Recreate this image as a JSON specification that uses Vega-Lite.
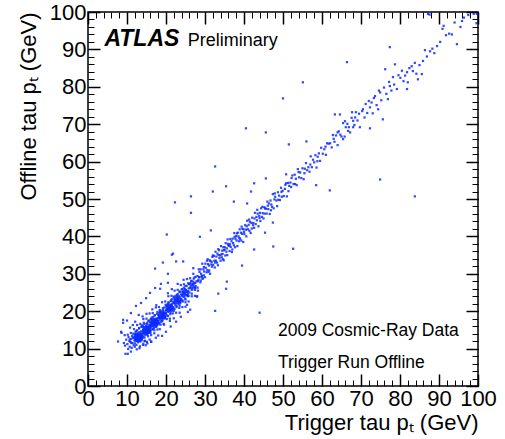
{
"$schema": "https://vega.github.io/schema/vega-lite/v6.json",
"width": 390, "height": 374,
"autosize": {"type": "none"},
"padding": {"left": 88, "top": 12, "right": 27, "bottom": 53},
"background": "white",
"config": {
  "view": {"stroke": "#000", "strokeWidth": 1.5},
  "font": "Liberation Sans",
  "axis": {"grid": false, "domain": false, "labelFont": "Liberation Sans", "titleFont": "Liberation Sans", "labelColor": "#000", "titleColor": "#000", "tickColor": "#000", "labelFlush": false, "labelOverlap": false}
},
"datasets": {
"pts": [
{"trig":12.1,"off":12.2},{"trig":12.5,"off":12.1},{"trig":12.9,"off":12.3},{"trig":13.3,"off":12.1},{"trig":13.7,"off":12.2},{"trig":12.2,"off":12.6},{"trig":12.6,"off":12.7},{"trig":13.0,"off":12.5},{"trig":13.4,"off":12.6},{"trig":13.8,"off":12.7},{"trig":12.1,"off":13.0},{"trig":12.4,"off":13.1},{"trig":12.8,"off":12.9},{"trig":13.2,"off":13.0},{"trig":13.6,"off":13.1},{"trig":13.9,"off":12.9},{"trig":12.3,"off":13.5},{"trig":12.7,"off":13.4},{"trig":13.1,"off":13.5},{"trig":13.5,"off":13.4},{"trig":13.9,"off":13.5},{"trig":12.1,"off":13.9},{"trig":12.5,"off":13.8},{"trig":12.9,"off":13.9},{"trig":13.3,"off":13.8},{"trig":13.7,"off":13.9},
{"trig":14.1,"off":14.2},{"trig":14.5,"off":14.1},{"trig":14.9,"off":14.3},{"trig":15.3,"off":14.1},{"trig":15.7,"off":14.2},{"trig":14.2,"off":14.6},{"trig":14.6,"off":14.7},{"trig":15.0,"off":14.5},{"trig":15.4,"off":14.6},{"trig":15.8,"off":14.7},{"trig":14.1,"off":15.0},{"trig":14.4,"off":15.1},{"trig":14.8,"off":14.9},{"trig":15.2,"off":15.0},{"trig":15.6,"off":15.1},{"trig":15.9,"off":14.9},{"trig":14.3,"off":15.5},{"trig":14.7,"off":15.4},{"trig":15.1,"off":15.5},{"trig":15.5,"off":15.4},{"trig":15.9,"off":15.5},{"trig":14.1,"off":15.9},{"trig":14.5,"off":15.8},{"trig":14.9,"off":15.9},{"trig":15.3,"off":15.8},{"trig":15.7,"off":15.9},
{"trig":16.1,"off":16.2},{"trig":16.5,"off":16.1},{"trig":16.9,"off":16.3},{"trig":17.3,"off":16.1},{"trig":17.7,"off":16.2},{"trig":16.2,"off":16.6},{"trig":16.6,"off":16.7},{"trig":17.0,"off":16.5},{"trig":17.4,"off":16.6},{"trig":17.8,"off":16.7},{"trig":16.1,"off":17.0},{"trig":16.4,"off":17.1},{"trig":16.8,"off":16.9},{"trig":17.2,"off":17.0},{"trig":17.6,"off":17.1},{"trig":17.9,"off":16.9},{"trig":16.3,"off":17.5},{"trig":16.7,"off":17.4},{"trig":17.1,"off":17.5},{"trig":17.5,"off":17.4},{"trig":17.9,"off":17.5},{"trig":16.1,"off":17.9},{"trig":16.5,"off":17.8},{"trig":16.9,"off":17.9},{"trig":17.3,"off":17.8},{"trig":17.7,"off":17.9},
{"trig":18.1,"off":18.2},{"trig":18.5,"off":18.1},{"trig":18.9,"off":18.3},{"trig":19.3,"off":18.1},{"trig":19.7,"off":18.2},{"trig":18.2,"off":18.6},{"trig":18.6,"off":18.7},{"trig":19.0,"off":18.5},{"trig":19.4,"off":18.6},{"trig":19.8,"off":18.7},{"trig":18.1,"off":19.0},{"trig":18.8,"off":18.9},{"trig":19.2,"off":19.0},{"trig":19.6,"off":19.1},{"trig":18.3,"off":19.5},{"trig":18.7,"off":19.4},{"trig":19.1,"off":19.5},{"trig":19.5,"off":19.4},{"trig":19.9,"off":19.5},{"trig":18.5,"off":19.8},{"trig":18.9,"off":19.9},{"trig":19.3,"off":19.8},
{"trig":20.1,"off":20.2},{"trig":20.5,"off":20.1},{"trig":20.9,"off":20.3},{"trig":21.3,"off":20.1},{"trig":21.7,"off":20.2},{"trig":20.2,"off":20.6},{"trig":20.6,"off":20.7},{"trig":21.0,"off":20.5},{"trig":21.4,"off":20.6},{"trig":21.8,"off":20.7},{"trig":20.4,"off":21.1},{"trig":20.8,"off":20.9},{"trig":21.2,"off":21.0},{"trig":21.6,"off":21.1},{"trig":20.3,"off":21.5},{"trig":20.7,"off":21.4},{"trig":21.1,"off":21.5},{"trig":21.5,"off":21.4},{"trig":20.5,"off":21.8},{"trig":21.3,"off":21.8},
{"trig":22.1,"off":22.2},{"trig":22.5,"off":22.1},{"trig":23.0,"off":22.3},{"trig":23.5,"off":22.1},{"trig":22.3,"off":22.6},{"trig":22.8,"off":22.7},{"trig":23.2,"off":22.5},{"trig":23.7,"off":22.7},{"trig":22.2,"off":23.1},{"trig":22.7,"off":23.0},{"trig":23.2,"off":23.1},{"trig":23.8,"off":23.0},{"trig":22.4,"off":23.5},{"trig":22.9,"off":23.6},{"trig":23.4,"off":23.4},{"trig":23.0,"off":23.9},
{"trig":24.2,"off":24.2},{"trig":24.7,"off":24.1},{"trig":25.3,"off":24.3},{"trig":24.4,"off":24.6},{"trig":24.9,"off":24.7},{"trig":25.6,"off":24.6},{"trig":24.2,"off":25.1},{"trig":24.8,"off":25.0},{"trig":25.4,"off":25.1},{"trig":24.5,"off":25.5},{"trig":25.1,"off":25.6},{"trig":25.7,"off":25.4},{"trig":24.9,"off":25.9},
{"trig":26.2,"off":26.3},{"trig":26.8,"off":26.1},{"trig":27.4,"off":26.4},{"trig":26.4,"off":26.8},{"trig":27.0,"off":26.9},{"trig":27.6,"off":26.7},{"trig":26.3,"off":27.4},{"trig":26.9,"off":27.3},{"trig":27.5,"off":27.5},{"trig":27.0,"off":27.9},
{"trig":28.3,"off":28.4},{"trig":28.9,"off":28.2},{"trig":29.4,"off":28.7},{"trig":28.6,"off":29.1},{"trig":29.2,"off":29.3},{"trig":29.7,"off":29.6},
{"trig":9.2,"off":11.5},{"trig":9.5,"off":10.8},{"trig":9.8,"off":12.4},{"trig":10.1,"off":11.2},{"trig":10.3,"off":9.9},{"trig":10.4,"off":13.1},{"trig":10.6,"off":12.0},{"trig":10.7,"off":10.5},{"trig":10.9,"off":11.8},{"trig":11.0,"off":14.2},{"trig":11.1,"off":12.6},{"trig":11.2,"off":10.2},{"trig":11.3,"off":13.4},{"trig":11.4,"off":11.5},{"trig":11.5,"off":12.9},{"trig":11.6,"off":14.0},{"trig":11.7,"off":10.9},{"trig":11.8,"off":13.0},{"trig":11.9,"off":12.2},{"trig":12.0,"off":13.6},{"trig":12.0,"off":11.4},{"trig":12.1,"off":12.8},{"trig":12.2,"off":14.5},{"trig":12.2,"off":13.2},{"trig":12.3,"off":12.1},{"trig":12.4,"off":13.8},{"trig":12.4,"off":11.0},{"trig":12.5,"off":12.6},{"trig":12.6,"off":13.3},{"trig":12.6,"off":14.9},{"trig":12.7,"off":12.0},{"trig":12.8,"off":13.5},{"trig":12.8,"off":11.7},{"trig":12.9,"off":14.1},{"trig":13.0,"off":12.9},{"trig":13.0,"off":13.7},{"trig":13.1,"off":15.4},{"trig":13.2,"off":12.3},{"trig":13.2,"off":14.4},{"trig":13.3,"off":13.1},{"trig":13.4,"off":11.9},{"trig":13.4,"off":13.9},{"trig":13.5,"off":12.7},{"trig":13.6,"off":14.6},{"trig":13.6,"off":13.2},{"trig":13.7,"off":15.8},{"trig":13.8,"off":12.5},{"trig":13.9,"off":14.0},{"trig":14.0,"off":13.4},{"trig":14.0,"off":16.2},{"trig":9.0,"off":16.9},{"trig":10.0,"off":17.5},{"trig":8.6,"off":14.2},{"trig":9.4,"off":13.6},{"trig":10.8,"off":15.6},{"trig":11.5,"off":16.3},{"trig":12.1,"off":17.2},{"trig":10.2,"off":8.6},{"trig":11.0,"off":9.2},{"trig":12.5,"off":9.8},{"trig":13.3,"off":10.6},{"trig":14.2,"off":11.3},{"trig":14.5,"off":12.0},{"trig":15.1,"off":11.8},{"trig":14.8,"off":10.9},
{"trig":14.1,"off":14.8},{"trig":14.2,"off":13.0},{"trig":14.3,"off":15.5},{"trig":14.4,"off":14.1},{"trig":14.5,"off":16.6},{"trig":14.6,"off":13.7},{"trig":14.7,"off":15.0},{"trig":14.8,"off":14.4},{"trig":14.9,"off":16.0},{"trig":15.0,"off":15.2},{"trig":15.0,"off":13.9},{"trig":15.1,"off":14.7},{"trig":15.2,"off":16.9},{"trig":15.3,"off":15.6},{"trig":15.4,"off":14.2},{"trig":15.5,"off":15.9},{"trig":15.5,"off":17.4},{"trig":15.6,"off":14.9},{"trig":15.7,"off":16.3},{"trig":15.8,"off":15.3},{"trig":15.9,"off":17.0},{"trig":16.0,"off":16.1},{"trig":16.0,"off":14.6},{"trig":16.1,"off":15.7},{"trig":16.2,"off":17.8},{"trig":16.3,"off":16.5},{"trig":16.4,"off":15.1},{"trig":16.5,"off":17.2},{"trig":16.6,"off":16.0},{"trig":16.7,"off":18.4},{"trig":16.8,"off":16.8},{"trig":16.9,"off":15.5},{"trig":17.0,"off":17.6},{"trig":17.0,"off":16.3},{"trig":17.1,"off":18.9},{"trig":17.2,"off":17.1},{"trig":17.3,"off":15.9},{"trig":17.4,"off":18.0},{"trig":17.5,"off":16.7},{"trig":17.6,"off":17.5},{"trig":17.7,"off":19.3},{"trig":17.8,"off":16.4},{"trig":17.9,"off":18.2},{"trig":18.0,"off":17.3},{"trig":18.1,"off":19.0},{"trig":18.2,"off":16.9},{"trig":18.3,"off":18.6},{"trig":18.4,"off":17.7},{"trig":18.5,"off":20.1},{"trig":18.6,"off":18.3},{"trig":18.7,"off":17.2},{"trig":18.8,"off":19.4},{"trig":18.9,"off":18.0},{"trig":19.0,"off":19.1},{"trig":19.1,"off":17.6},{"trig":19.2,"off":20.3},{"trig":19.3,"off":18.8},{"trig":19.4,"off":19.7},{"trig":19.5,"off":18.2},{"trig":19.6,"off":21.0},{"trig":19.7,"off":19.3},{"trig":19.8,"off":18.5},{"trig":19.9,"off":20.2},{"trig":14.0,"off":18.6},{"trig":15.0,"off":19.3},{"trig":16.5,"off":20.5},{"trig":17.5,"off":21.6},{"trig":15.8,"off":12.4},{"trig":17.0,"off":14.1},{"trig":18.4,"off":15.2},{"trig":19.5,"off":16.4},{"trig":16.2,"off":11.8},{"trig":18.0,"off":13.5},{"trig":13.0,"off":19.0},
{"trig":20.0,"off":19.5},{"trig":20.1,"off":21.2},{"trig":20.2,"off":20.4},{"trig":20.3,"off":18.9},{"trig":20.4,"off":21.8},{"trig":20.5,"off":20.7},{"trig":20.6,"off":19.8},{"trig":20.7,"off":22.3},{"trig":20.8,"off":21.0},{"trig":20.9,"off":20.1},{"trig":21.0,"off":21.6},{"trig":21.1,"off":19.2},{"trig":21.2,"off":22.7},{"trig":21.3,"off":21.3},{"trig":21.4,"off":20.5},{"trig":21.5,"off":23.2},{"trig":21.6,"off":21.9},{"trig":21.7,"off":20.9},{"trig":21.8,"off":22.5},{"trig":21.9,"off":21.1},{"trig":22.0,"off":23.6},{"trig":22.1,"off":22.2},{"trig":22.2,"off":20.6},{"trig":22.3,"off":23.0},{"trig":22.4,"off":21.7},{"trig":22.5,"off":24.1},{"trig":22.6,"off":22.8},{"trig":22.7,"off":21.4},{"trig":22.8,"off":23.5},{"trig":22.9,"off":22.4},{"trig":23.0,"off":24.6},{"trig":23.1,"off":23.1},{"trig":23.2,"off":21.9},{"trig":23.3,"off":24.0},{"trig":23.4,"off":22.7},{"trig":23.5,"off":25.2},{"trig":23.6,"off":23.7},{"trig":23.7,"off":22.3},{"trig":23.8,"off":24.5},{"trig":23.9,"off":23.3},{"trig":24.0,"off":25.8},{"trig":24.1,"off":24.2},{"trig":24.2,"off":22.9},{"trig":24.4,"off":25.1},{"trig":24.5,"off":23.8},{"trig":24.6,"off":26.3},{"trig":24.8,"off":24.7},{"trig":24.9,"off":23.4},{"trig":25.0,"off":25.5},{"trig":25.2,"off":24.3},{"trig":25.3,"off":26.8},{"trig":25.5,"off":25.2},{"trig":25.6,"off":24.0},{"trig":25.8,"off":26.1},{"trig":25.9,"off":27.2},{"trig":20.5,"off":24.8},{"trig":21.5,"off":25.9},{"trig":23.0,"off":27.3},{"trig":24.5,"off":28.4},{"trig":22.0,"off":18.1},{"trig":23.5,"off":19.6},{"trig":25.0,"off":21.2},{"trig":21.0,"off":17.4},
{"trig":26.0,"off":25.0},{"trig":26.1,"off":27.4},{"trig":26.3,"off":26.2},{"trig":26.5,"off":28.0},{"trig":26.6,"off":25.7},{"trig":26.8,"off":27.1},{"trig":27.0,"off":26.4},{"trig":27.1,"off":28.7},{"trig":27.3,"off":27.5},{"trig":27.5,"off":26.1},{"trig":27.6,"off":29.2},{"trig":27.8,"off":28.0},{"trig":27.0,"off":31.5},{"trig":28.0,"off":24.0},
{"trig":11.8,"off":15.2},{"trig":12.6,"off":16.3},{"trig":13.4,"off":16.6},{"trig":14.2,"off":17.9},{"trig":15.0,"off":18.0},{"trig":15.8,"off":19.4},{"trig":16.6,"off":19.5},{"trig":17.4,"off":21.0},{"trig":18.2,"off":21.1},{"trig":19.0,"off":22.4},{"trig":19.8,"off":22.6},{"trig":20.6,"off":24.0},{"trig":21.4,"off":24.1},{"trig":22.2,"off":25.5},{"trig":23.0,"off":25.7},{"trig":23.8,"off":27.0},{"trig":24.6,"off":27.2},{"trig":25.4,"off":28.6},{"trig":26.2,"off":28.8},{"trig":27.0,"off":30.0},
{"trig":14.6,"off":12.1},{"trig":15.4,"off":13.3},{"trig":16.2,"off":13.6},{"trig":17.0,"off":14.9},{"trig":17.8,"off":15.1},{"trig":18.6,"off":16.4},{"trig":19.4,"off":16.6},{"trig":20.2,"off":17.9},{"trig":21.0,"off":18.0},{"trig":21.8,"off":19.4},{"trig":22.6,"off":19.6},{"trig":23.4,"off":20.9},{"trig":24.2,"off":21.1},{"trig":25.0,"off":22.4},{"trig":25.8,"off":22.6},{"trig":26.6,"off":24.0},{"trig":27.4,"off":24.1},{"trig":28.2,"off":25.5},
{"trig":12.4,"off":14.6},{"trig":13.1,"off":15.5},{"trig":13.8,"off":16.1},{"trig":14.3,"off":16.9},{"trig":15.1,"off":16.6},{"trig":15.6,"off":17.5},{"trig":16.3,"off":18.3},{"trig":17.1,"off":18.9},{"trig":17.8,"off":19.8},{"trig":18.4,"off":20.3},{"trig":19.2,"off":20.8},{"trig":19.9,"off":21.7},{"trig":20.6,"off":22.3},{"trig":21.3,"off":22.9},{"trig":22.0,"off":23.9},{"trig":22.8,"off":24.3},{"trig":23.5,"off":25.2},{"trig":24.2,"off":25.9},{"trig":25.0,"off":26.7},{"trig":25.7,"off":27.5},{"trig":26.5,"off":28.1},{"trig":27.3,"off":29.0},
{"trig":14.5,"off":13.0},{"trig":15.2,"off":13.7},{"trig":16.0,"off":14.2},{"trig":16.7,"off":15.3},{"trig":17.5,"off":15.8},{"trig":18.3,"off":16.6},{"trig":19.0,"off":17.3},{"trig":19.7,"off":18.1},{"trig":20.5,"off":18.7},{"trig":21.2,"off":19.6},{"trig":22.0,"off":20.1},{"trig":22.7,"off":21.1},{"trig":23.5,"off":21.5},{"trig":24.3,"off":22.6},{"trig":25.0,"off":23.1},{"trig":25.8,"off":24.1},{"trig":26.6,"off":24.7},{"trig":27.4,"off":25.7},{"trig":28.1,"off":26.3},
{"trig":8.5,"off":14.5},{"trig":9.0,"off":17.7},{"trig":10.2,"off":13.7},{"trig":10.7,"off":12.5},{"trig":11.1,"off":11.5},{"trig":12.0,"off":10.5},{"trig":13.2,"off":10.1},{"trig":14.1,"off":11.0},{"trig":15.2,"off":11.4},{"trig":16.2,"off":11.9},{"trig":17.4,"off":12.9},{"trig":19.0,"off":13.4},{"trig":20.0,"off":14.5},{"trig":21.2,"off":15.9},{"trig":22.6,"off":17.2},{"trig":23.8,"off":18.5},{"trig":25.6,"off":19.8},{"trig":11.0,"off":19.5},{"trig":12.3,"off":21.4},{"trig":13.6,"off":22.2},{"trig":14.9,"off":23.5},{"trig":15.9,"off":24.9},{"trig":17.2,"off":26.2},{"trig":18.7,"off":27.3},{"trig":20.5,"off":27.6},{"trig":7.7,"off":11.9},{"trig":9.6,"off":8.6},
{"trig":28.1,"off":29.4},{"trig":28.2,"off":28.0},{"trig":28.4,"off":31.2},{"trig":28.5,"off":29.1},{"trig":28.6,"off":30.5},{"trig":28.8,"off":27.7},{"trig":28.9,"off":31.2},{"trig":29.0,"off":30.0},{"trig":29.2,"off":29.4},{"trig":29.3,"off":32.7},{"trig":29.4,"off":28.8},{"trig":29.6,"off":31.2},{"trig":29.7,"off":31.8},{"trig":29.8,"off":30.6},{"trig":30.0,"off":29.1},{"trig":30.1,"off":32.7},{"trig":30.2,"off":31.6},{"trig":30.4,"off":30.4},{"trig":30.5,"off":33.5},{"trig":30.6,"off":31.0},{"trig":30.8,"off":32.6},{"trig":30.9,"off":30.5},{"trig":31.0,"off":32.2},{"trig":31.2,"off":33.6},{"trig":31.3,"off":30.0},{"trig":31.4,"off":33.4},{"trig":31.6,"off":32.5},{"trig":31.7,"off":33.2},{"trig":31.8,"off":31.9},{"trig":32.0,"off":34.9},
{"trig":32.1,"off":32.4},{"trig":32.3,"off":34.8},{"trig":32.4,"off":33.5},{"trig":32.5,"off":31.7},{"trig":32.7,"off":35.9},{"trig":32.8,"off":33.5},{"trig":32.9,"off":34.6},{"trig":33.1,"off":33.0},{"trig":33.2,"off":35.4},{"trig":33.3,"off":32.3},{"trig":33.5,"off":35.0},{"trig":33.6,"off":36.3},{"trig":33.7,"off":34.2},{"trig":33.9,"off":34.9},{"trig":34.0,"off":33.5},{"trig":34.1,"off":37.4},{"trig":34.3,"off":34.4},{"trig":34.4,"off":36.2},{"trig":34.5,"off":35.3},{"trig":34.7,"off":37.1},{"trig":34.8,"off":33.6},{"trig":34.9,"off":36.3},{"trig":35.1,"off":37.1},{"trig":35.2,"off":34.9},{"trig":35.3,"off":38.2},{"trig":35.5,"off":35.9},{"trig":35.6,"off":36.8},{"trig":35.7,"off":35.0},{"trig":35.9,"off":38.0},{"trig":36.0,"off":37.6},
{"trig":36.2,"off":37.5},{"trig":36.3,"off":36.1},{"trig":36.5,"off":39.3},{"trig":36.6,"off":37.2},{"trig":36.8,"off":38.7},{"trig":36.9,"off":35.8},{"trig":37.1,"off":39.4},{"trig":37.2,"off":38.2},{"trig":37.4,"off":37.6},{"trig":37.5,"off":40.9},{"trig":37.7,"off":37.1},{"trig":37.8,"off":39.4},{"trig":38.0,"off":40.1},{"trig":38.1,"off":38.9},{"trig":38.3,"off":37.4},{"trig":38.4,"off":41.0},{"trig":38.6,"off":40.0},{"trig":38.7,"off":38.7},{"trig":38.9,"off":41.9},{"trig":39.0,"off":39.4},{"trig":39.2,"off":41.0},{"trig":39.3,"off":38.9},{"trig":39.5,"off":40.7},{"trig":39.6,"off":42.0},{"trig":39.8,"off":38.5},{"trig":39.9,"off":41.9},
{"trig":40.1,"off":40.6},{"trig":40.3,"off":43.0},{"trig":40.5,"off":41.8},{"trig":40.6,"off":40.0},{"trig":40.8,"off":44.2},{"trig":41.0,"off":41.9},{"trig":41.2,"off":43.1},{"trig":41.4,"off":41.5},{"trig":41.5,"off":43.9},{"trig":41.7,"off":40.9},{"trig":41.9,"off":43.6},{"trig":42.1,"off":45.0},{"trig":42.3,"off":43.0},{"trig":42.4,"off":43.6},{"trig":42.6,"off":42.3},{"trig":42.8,"off":46.3},{"trig":43.0,"off":43.3},{"trig":43.2,"off":45.2},{"trig":43.3,"off":44.3},{"trig":43.5,"off":46.1},{"trig":43.7,"off":42.7},{"trig":43.9,"off":45.5},{"trig":44.1,"off":46.3},{"trig":44.2,"off":44.1},{"trig":44.4,"off":47.5},{"trig":44.6,"off":45.2},{"trig":44.8,"off":46.2},
{"trig":45.0,"off":44.8},{"trig":45.2,"off":47.8},{"trig":45.4,"off":47.5},{"trig":45.6,"off":47.4},{"trig":45.8,"off":46.1},{"trig":46.0,"off":49.3},{"trig":46.2,"off":47.3},{"trig":46.4,"off":48.8},{"trig":46.6,"off":46.0},{"trig":46.8,"off":49.6},{"trig":47.0,"off":48.5},{"trig":47.2,"off":47.9},{"trig":47.4,"off":51.3},{"trig":47.6,"off":47.5},{"trig":47.8,"off":49.9},{"trig":48.0,"off":50.6},{"trig":48.3,"off":49.6},{"trig":48.5,"off":48.1},{"trig":48.7,"off":51.8},{"trig":49.0,"off":50.9},{"trig":49.2,"off":49.7},{"trig":49.5,"off":53.0},{"trig":49.7,"off":50.6},{"trig":49.9,"off":52.2},
{"trig":50.2,"off":50.8},{"trig":50.5,"off":52.7},{"trig":50.8,"off":54.2},{"trig":51.0,"off":50.7},{"trig":51.3,"off":54.3},{"trig":51.6,"off":53.5},{"trig":51.9,"off":54.4},{"trig":52.1,"off":53.2},{"trig":52.4,"off":56.3},{"trig":52.7,"off":54.0},{"trig":53.0,"off":56.5},{"trig":53.3,"off":55.4},{"trig":53.5,"off":53.7},{"trig":53.8,"off":58.0},{"trig":54.1,"off":55.8},{"trig":54.4,"off":57.1},{"trig":54.7,"off":55.6},{"trig":55.0,"off":58.2},{"trig":55.3,"off":55.3},{"trig":55.6,"off":58.1},{"trig":55.9,"off":59.6},{"trig":56.2,"off":57.7},{"trig":56.5,"off":58.5},{"trig":56.8,"off":57.3},{"trig":57.1,"off":61.4},{"trig":57.4,"off":58.5},{"trig":57.7,"off":60.5},{"trig":58.0,"off":59.8},{"trig":58.3,"off":61.7},{"trig":58.6,"off":58.4},{"trig":58.9,"off":61.3},{"trig":59.2,"off":62.2},{"trig":59.5,"off":60.2},{"trig":59.8,"off":63.7},
{"trig":60.2,"off":62.1},{"trig":60.6,"off":63.3},{"trig":61.0,"off":61.8},{"trig":61.3,"off":64.9},{"trig":61.7,"off":64.8},{"trig":62.1,"off":64.9},{"trig":62.5,"off":63.8},{"trig":62.8,"off":67.1},{"trig":63.2,"off":65.3},{"trig":63.6,"off":67.0},{"trig":64.0,"off":64.4},{"trig":64.3,"off":68.1},{"trig":64.7,"off":67.2},{"trig":65.0,"off":66.7},{"trig":65.4,"off":70.3},{"trig":65.8,"off":66.7},{"trig":66.1,"off":69.2},{"trig":66.5,"off":70.1},{"trig":66.9,"off":69.2},{"trig":67.2,"off":67.8},{"trig":67.6,"off":71.7},{"trig":68.0,"off":70.9},{"trig":68.3,"off":69.8},{"trig":68.7,"off":73.2},{"trig":69.1,"off":71.0},{"trig":69.5,"off":72.8},
{"trig":70.3,"off":73.5},{"trig":70.5,"off":74.0},{"trig":70.9,"off":71.8},{"trig":71.2,"off":75.4},{"trig":71.6,"off":73.0},{"trig":72.0,"off":76.2},{"trig":72.3,"off":74.5},{"trig":72.3,"off":68.9},{"trig":72.7,"off":75.8},{"trig":73.0,"off":72.9},{"trig":73.3,"off":77.0},{"trig":73.6,"off":77.5},{"trig":74.0,"off":75.1},{"trig":74.4,"off":74.0},{"trig":74.6,"off":79.0},{"trig":74.9,"off":78.5},{"trig":75.2,"off":76.4},{"trig":75.6,"off":71.3},{"trig":75.9,"off":79.8},{"trig":76.2,"off":84.7},{"trig":76.5,"off":78.1},{"trig":76.9,"off":76.7},{"trig":77.2,"off":81.3},{"trig":77.4,"off":80.2},{"trig":77.8,"off":79.0},{"trig":78.2,"off":82.6},{"trig":78.5,"off":80.6},{"trig":78.7,"off":86.0},{"trig":79.2,"off":79.4},{"trig":79.6,"off":83.1},
{"trig":80.1,"off":82.4},{"trig":80.5,"off":84.3},{"trig":80.9,"off":81.5},{"trig":81.3,"off":83.0},{"trig":81.8,"off":83.9},{"trig":81.8,"off":79.4},{"trig":82.0,"off":81.2},{"trig":82.4,"off":85.0},{"trig":83.0,"off":85.5},{"trig":83.3,"off":84.2},{"trig":83.8,"off":86.4},{"trig":84.2,"off":83.5},{"trig":84.6,"off":82.0},{"trig":85.0,"off":85.8},{"trig":85.6,"off":83.4},{"trig":85.9,"off":86.9},{"trig":86.4,"off":89.8},{"trig":86.9,"off":88.1},{"trig":87.7,"off":89.5},{"trig":88.3,"off":90.2},{"trig":88.8,"off":89.0},{"trig":89.5,"off":90.9},
{"trig":90.3,"off":92.0},{"trig":90.9,"off":95.5},{"trig":91.2,"off":96.3},{"trig":91.8,"off":93.8},{"trig":92.6,"off":94.2},{"trig":93.3,"off":94.0},{"trig":94.0,"off":97.2},{"trig":94.6,"off":91.4},{"trig":95.5,"off":96.0},{"trig":95.9,"off":97.6},{"trig":96.4,"off":98.5},{"trig":97.5,"off":99.2},{"trig":98.9,"off":99.5},{"trig":99.6,"off":97.0},{"trig":99.7,"off":99.5},{"trig":87.2,"off":99.5},{"trig":87.6,"off":99.3},
{"trig":30.7,"off":33.9},{"trig":31.1,"off":30.9},{"trig":31.9,"off":34.5},{"trig":32.6,"off":33.0},{"trig":33.4,"off":36.6},{"trig":34.2,"off":35.2},{"trig":34.6,"off":33.9},{"trig":35.0,"off":36.4},{"trig":35.8,"off":39.2},{"trig":36.4,"off":37.9},{"trig":37.0,"off":36.5},{"trig":37.6,"off":39.9},{"trig":38.2,"off":40.8},{"trig":38.8,"off":39.5},{"trig":39.4,"off":42.6},{"trig":40.0,"off":41.2},{"trig":40.7,"off":42.7},{"trig":41.3,"off":44.5},{"trig":42.0,"off":42.1},{"trig":42.7,"off":44.8},{"trig":43.4,"off":47.1},{"trig":44.0,"off":44.9},{"trig":44.7,"off":47.9},{"trig":45.3,"off":46.1},{"trig":46.1,"off":48.2},{"trig":46.9,"off":47.0},{"trig":47.9,"off":51.5},{"trig":48.8,"off":49.8},{"trig":49.6,"off":51.9},{"trig":50.6,"off":53.8},{"trig":51.4,"off":52.1},{"trig":52.2,"off":55.6},{"trig":53.1,"off":54.0},{"trig":54.0,"off":57.2},{"trig":55.5,"off":56.9},{"trig":57.0,"off":59.2},{"trig":58.8,"off":60.1},{"trig":60.9,"off":64.0},{"trig":63.0,"off":66.1},{"trig":66.7,"off":68.2},
{"trig":66.4,"off":86.6},{"trig":55.1,"off":81.2},{"trig":50.0,"off":76.9},{"trig":77.4,"off":90.6},{"trig":40.5,"off":68.9},{"trig":45.6,"off":67.8},{"trig":32.6,"off":58.7},{"trig":45.6,"off":55.5},{"trig":50.8,"off":56.6},{"trig":42.6,"off":54.2},{"trig":35.4,"off":53.4},{"trig":32.0,"off":52.0},{"trig":41.8,"off":52.0},{"trig":26.4,"off":50.7},{"trig":22.3,"off":49.1},{"trig":37.4,"off":49.3},{"trig":40.8,"off":48.8},{"trig":83.8,"off":50.7},{"trig":52.6,"off":36.7},{"trig":62.0,"off":52.3},{"trig":58.5,"off":53.7},{"trig":74.9,"off":55.2},{"trig":44.0,"off":19.6},{"trig":32.6,"off":20.1},{"trig":35.6,"off":27.9},{"trig":39.5,"off":32.2},{"trig":17.2,"off":31.4},{"trig":26.4,"off":46.3},{"trig":20.2,"off":40.5},{"trig":19.2,"off":33.0},{"trig":21.8,"off":35.4},{"trig":22.6,"off":33.3},{"trig":24.4,"off":33.3},{"trig":28.7,"off":39.9},{"trig":31.5,"off":41.6},{"trig":33.4,"off":24.7},{"trig":35.4,"off":26.0},{"trig":42.6,"off":36.5},{"trig":45.4,"off":41.0},{"trig":20.5,"off":30.0},{"trig":18.5,"off":26.0},{"trig":25.4,"off":21.7},{"trig":26.2,"off":20.4},{"trig":27.9,"off":23.9},{"trig":21.5,"off":35.1},{"trig":63.3,"off":72.6},{"trig":64.6,"off":72.6},{"trig":67.7,"off":73.2},{"trig":68.5,"off":71.8},{"trig":65.9,"off":70.8},{"trig":68.0,"off":69.2},{"trig":69.7,"off":69.2},{"trig":65.4,"off":66.0},{"trig":64.0,"off":67.8},{"trig":51.5,"off":64.6},{"trig":56.0,"off":65.4},{"trig":47.4,"off":43.7},{"trig":47.5,"off":37.3}
]
},
"resolve": {"axis": {"x": "independent", "y": "independent"}},
"layer": [
{
  "data": {"name": "pts"},
  "mark": {"type": "point", "shape": "square", "filled": true, "size": 5, "color": "#0a2aff", "opacity": 0.85},
  "encoding": {
    "x": {"field": "trig", "type": "quantitative", "scale": {"domain": [0, 100], "nice": false, "zero": false},
      "axis": {"orient": "bottom", "values": [0,10,20,30,40,50,60,70,80,90,100], "ticks": false, "labelFontSize": 22, "labelPadding": 2, "title": "Trigger tau pₜ (GeV)", "titleFontSize": 22, "titleFontWeight": "normal", "titleAnchor": "end", "titlePadding": 3}},
    "y": {"field": "off", "type": "quantitative", "scale": {"domain": [0, 100], "nice": false, "zero": false},
      "axis": {"orient": "left", "values": [0,10,20,30,40,50,60,70,80,90,100], "ticks": false, "labelFontSize": 22, "labelPadding": 2, "title": "Offline tau pₜ (GeV)", "titleFontSize": 22, "titleFontWeight": "normal", "titleAnchor": "end", "titlePadding": 9}}
  }
},
{
  "data": {"values": [{"label": "ATLAS"}]},
  "mark": {"type": "text", "align": "left", "baseline": "alphabetic", "fontSize": 23, "fontWeight": "bold", "fontStyle": "italic", "font": "Liberation Sans", "color": "#000"},
  "encoding": {
    "text": {"field": "label"},
    "x": {"datum": 4.2, "type": "quantitative", "axis": {"orient": "bottom", "values": [0,10,20,30,40,50,60,70,80,90,100], "tickSize": -12, "tickWidth": 1.5, "labels": false, "title": null}},
    "y": {"datum": 90.9, "type": "quantitative", "axis": {"orient": "left", "values": [0,10,20,30,40,50,60,70,80,90,100], "tickSize": -12, "tickWidth": 1.5, "labels": false, "title": null}}
  }
},
{
  "data": {"values": [{"label": "Preliminary"}]},
  "mark": {"type": "text", "align": "left", "baseline": "alphabetic", "fontSize": 18, "font": "Liberation Sans", "color": "#000"},
  "encoding": {
    "text": {"field": "label"},
    "x": {"datum": 25.6, "type": "quantitative", "axis": {"orient": "bottom", "values": [0,2,4,6,8,10,12,14,16,18,20,22,24,26,28,30,32,34,36,38,40,42,44,46,48,50,52,54,56,58,60,62,64,66,68,70,72,74,76,78,80,82,84,86,88,90,92,94,96,98,100], "tickSize": -6, "tickWidth": 1, "labels": false, "title": null}},
    "y": {"datum": 90.9, "type": "quantitative", "axis": {"orient": "left", "values": [0,2,4,6,8,10,12,14,16,18,20,22,24,26,28,30,32,34,36,38,40,42,44,46,48,50,52,54,56,58,60,62,64,66,68,70,72,74,76,78,80,82,84,86,88,90,92,94,96,98,100], "tickSize": -6, "tickWidth": 1, "labels": false, "title": null}}
  }
},
{
  "data": {"values": [{"label": "2009 Cosmic-Ray Data"}]},
  "mark": {"type": "text", "align": "left", "baseline": "alphabetic", "fontSize": 17.5, "font": "Liberation Sans", "color": "#000"},
  "encoding": {
    "text": {"field": "label"},
    "x": {"datum": 48.7, "type": "quantitative", "axis": {"orient": "top", "values": [0,10,20,30,40,50,60,70,80,90,100], "tickSize": -12, "tickWidth": 1.5, "labels": false, "title": null}},
    "y": {"datum": 13.4, "type": "quantitative", "axis": {"orient": "right", "values": [0,10,20,30,40,50,60,70,80,90,100], "tickSize": -12, "tickWidth": 1.5, "labels": false, "title": null}}
  }
},
{
  "data": {"values": [{"label": "Trigger Run Offline"}]},
  "mark": {"type": "text", "align": "left", "baseline": "alphabetic", "fontSize": 17.5, "font": "Liberation Sans", "color": "#000"},
  "encoding": {
    "text": {"field": "label"},
    "x": {"datum": 48.7, "type": "quantitative", "axis": {"orient": "top", "values": [0,2,4,6,8,10,12,14,16,18,20,22,24,26,28,30,32,34,36,38,40,42,44,46,48,50,52,54,56,58,60,62,64,66,68,70,72,74,76,78,80,82,84,86,88,90,92,94,96,98,100], "tickSize": -6, "tickWidth": 1, "labels": false, "title": null}},
    "y": {"datum": 4.8, "type": "quantitative", "axis": {"orient": "right", "values": [0,2,4,6,8,10,12,14,16,18,20,22,24,26,28,30,32,34,36,38,40,42,44,46,48,50,52,54,56,58,60,62,64,66,68,70,72,74,76,78,80,82,84,86,88,90,92,94,96,98,100], "tickSize": -6, "tickWidth": 1, "labels": false, "title": null}}
  }
}
]
}
